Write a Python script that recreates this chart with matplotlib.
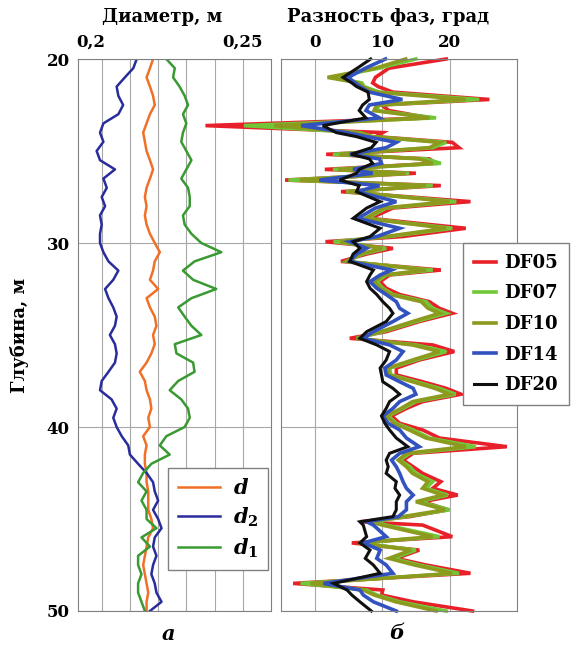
import matplotlib
matplotlib.use('Agg')
import matplotlib.pyplot as plt
import matplotlib.transforms as mtransforms
import numpy as np

plt.rcParams['font.family'] = 'DejaVu Serif'
plt.rcParams['font.weight'] = 'bold'
plt.rcParams['mathtext.fontset'] = 'custom'
plt.rcParams['mathtext.it'] = 'DejaVu Serif:italic:bold'
plt.rcParams['mathtext.rm'] = 'DejaVu Serif:bold'

# --- panel a: diameters, m (sampled every 0.5 m, 20..50 m)
depth_a = np.arange(20.0, 50.01, 0.5)
d = [0.2182, 0.2171, 0.2159, 0.2171, 0.2182, 0.2188, 0.2171, 0.2159, 0.2147, 0.2153,
     0.2159, 0.2171, 0.2182, 0.2171, 0.2159, 0.2153, 0.2159, 0.2153, 0.2159, 0.2171,
     0.2188, 0.2206, 0.2188, 0.2182, 0.2171, 0.2200, 0.2159, 0.2171, 0.2188, 0.2194,
     0.2182, 0.2188, 0.2176, 0.2159, 0.2135, 0.2153, 0.2159, 0.2171, 0.2176, 0.2165,
     0.2171, 0.2147, 0.2159, 0.2153, 0.2153, 0.2159, 0.2159, 0.2165, 0.2165, 0.2165,
     0.2176, 0.2182, 0.2165, 0.2159, 0.2153, 0.2147, 0.2153, 0.2159, 0.2165, 0.2159,
     0.2159]
d2 = [0.2124, 0.2112, 0.2082, 0.2053, 0.2059, 0.2076, 0.2059, 0.2006, 0.1994, 0.2006,
      0.1982, 0.1994, 0.2047, 0.2006, 0.2018, 0.2000, 0.2012, 0.1994, 0.2000, 0.1994,
      0.1994, 0.2006, 0.2024, 0.2059, 0.2041, 0.2012, 0.2024, 0.2041, 0.2053, 0.2047,
      0.2029, 0.2047, 0.2053, 0.2047, 0.2024, 0.2000, 0.1994, 0.2035, 0.2053, 0.2041,
      0.2053, 0.2071, 0.2094, 0.2100, 0.2129, 0.2159, 0.2182, 0.2188, 0.2200, 0.2182,
      0.2200, 0.2212, 0.2188, 0.2182, 0.2194, 0.2182, 0.2176, 0.2188, 0.2194, 0.2212,
      0.2171]
d1 = [0.2229, 0.2259, 0.2253, 0.2276, 0.2294, 0.2306, 0.2288, 0.2300, 0.2288, 0.2282,
      0.2300, 0.2318, 0.2300, 0.2282, 0.2306, 0.2312, 0.2312, 0.2288, 0.2294, 0.2318,
      0.2353, 0.2424, 0.2329, 0.2288, 0.2324, 0.2406, 0.2318, 0.2271, 0.2294, 0.2318,
      0.2353, 0.2259, 0.2265, 0.2324, 0.2329, 0.2271, 0.2241, 0.2282, 0.2306, 0.2312,
      0.2294, 0.2229, 0.2206, 0.2241, 0.2176, 0.2147, 0.2129, 0.2159, 0.2141, 0.2159,
      0.2159, 0.2194, 0.2141, 0.2171, 0.2129, 0.2129, 0.2141, 0.2129, 0.2129, 0.2141,
      0.2153]

# --- panel b: phase difference, deg
depth_b = [20.00, 20.50, 21.00, 21.30, 21.50, 21.80, 22.20, 22.50, 22.80, 23.20,
           23.62, 24.00, 24.22, 24.53, 24.82, 25.18, 25.43, 25.67, 26.00, 26.21,
           26.58, 26.88, 27.21, 27.75, 28.10, 28.66, 29.20, 29.65, 29.93, 30.29,
           30.60, 31.00, 31.47, 31.74, 32.10, 32.46, 32.80, 33.19, 33.55, 33.82,
           34.27, 34.82, 35.18, 35.54, 35.90, 36.36, 36.80, 37.17, 37.54, 37.90,
           38.22, 38.62, 38.99, 39.40, 39.80, 40.16, 40.60, 41.07, 41.43, 41.80,
           42.16, 42.52, 42.97, 43.33, 43.70, 44.06, 44.50, 44.87, 45.15, 45.33,
           45.96, 46.30, 46.69, 47.14, 47.50, 47.95, 48.50, 48.86, 49.13, 49.50,
           50.00]
df20 = [8.3, 6.3, 4.2, 5.5, 6.2, 7.9, 8.1, 7.1, 6.6, 7.6,
        1.2, 3.2, 6.2, 9.1, 8.4, 5.4, 8.1, 8.6, 6.6, 6.2,
        3.7, 6.6, 6.2, 9.7, 7.7, 5.7, 9.7, 8.2, 5.7, 6.7,
        5.7, 5.2, 8.7, 8.2, 7.7, 8.2, 9.2, 10.1, 11.1, 11.6,
        10.6, 7.7, 6.7, 9.2, 11.1, 10.6, 9.7, 9.9, 10.1, 11.6,
        12.6, 11.1, 10.6, 9.9, 10.4, 11.1, 12.1, 13.8, 11.1, 10.6,
        10.9, 10.6, 12.1, 11.9, 12.6, 12.1, 12.1, 11.6, 6.7, 7.2,
        7.7, 6.7, 8.2, 7.5, 8.7, 9.7, 2.8, 4.8, 5.5, 6.7,
        8.4]
df14 = [10.5, 7.5, 5.0, 6.0, 6.7, 8.1, 13.0, 8.1, 7.6, 9.6,
        -2.0, 4.7, 7.7, 12.1, 10.6, 5.2, 9.6, 9.9, 5.7, 8.6,
        0.7, 9.6, 6.2, 12.1, 9.0, 6.4, 12.6, 9.2, 5.2, 7.7,
        6.2, 5.2, 11.4, 9.7, 8.2, 9.2, 10.6, 12.1, 12.6, 13.8,
        11.6, 8.7, 7.2, 11.1, 13.1, 12.1, 10.4, 10.6, 12.6, 14.6,
        15.0, 12.6, 11.6, 10.1, 10.9, 12.6, 13.6, 15.5, 12.6, 11.4,
        12.1, 12.6, 13.1, 13.6, 14.6, 13.6, 13.6, 12.4, 7.7, 8.7,
        10.6, 7.2, 9.7, 9.2, 10.6, 11.6, 1.3, 6.7, 7.2, 8.7,
        12.1]
df10 = [13.5, 9.0, 1.9, 6.5, 7.1, 9.0, 22.4, 9.2, 8.8, 17.0,
        -6.0, 6.2, 8.5, 18.5, 17.0, 3.7, 15.5, 17.5, 3.5, 13.5,
        -2.2, 16.5, 5.0, 20.0, 10.2, 7.5, 19.5, 10.5, 3.8, 10.0,
        6.8, 4.7, 16.5, 10.2, 8.8, 9.8, 11.2, 15.8, 16.8, 18.5,
        14.5, 9.8, 6.2, 14.5, 18.5, 14.5, 10.8, 11.0, 14.5, 17.8,
        20.0, 14.5, 12.8, 10.6, 11.8, 14.0, 16.5, 22.4, 13.6, 12.4,
        13.6, 14.5, 16.8, 16.0, 19.0, 15.0, 19.3, 13.1, 8.2, 10.0,
        17.5, 6.5, 14.3, 11.0, 14.8, 20.4, -0.6, 7.2, 8.8, 12.0,
        18.0]
df07 = [15.0, 9.5, 2.5, 7.0, 7.3, 9.6, 24.4, 9.6, 9.1, 18.0,
        -10.5, 6.7, 8.6, 19.5, 17.5, 2.7, 16.5, 18.7, 2.7, 14.0,
        -3.9, 17.5, 4.7, 21.0, 10.6, 7.7, 20.4, 11.0, 2.8, 10.6,
        7.1, 4.7, 17.5, 10.6, 9.2, 10.1, 11.6, 16.5, 17.5, 19.5,
        15.0, 10.1, 6.2, 15.0, 19.5, 15.0, 11.1, 11.3, 15.0, 18.5,
        20.9, 15.0, 13.1, 10.9, 12.1, 14.6, 17.0, 23.9, 14.1, 12.6,
        14.1, 15.0, 17.5, 16.5, 19.7, 15.5, 20.0, 13.6, 8.7, 10.6,
        18.5, 6.7, 15.0, 11.6, 15.5, 21.4, -2.1, 7.7, 9.2, 12.6,
        19.5]
df05 = [19.5, 11.0, 9.0, 8.6, 9.4, 11.6, 25.9, 9.9, 11.0, 17.0,
        -16.2, 10.1, 9.1, 20.4, 21.4, 1.7, 17.0, 18.0, 1.5, 15.0,
        -4.4, 18.7, 3.9, 23.1, 11.6, 8.2, 22.4, 13.0, 1.6, 11.6,
        7.7, 3.9, 18.7, 11.1, 9.7, 10.6, 12.6, 17.0, 18.5, 20.4,
        15.5, 10.6, 5.2, 17.5, 20.7, 15.5, 12.1, 12.1, 16.0, 19.5,
        21.7, 16.0, 13.6, 11.4, 12.6, 16.0, 18.5, 28.5, 14.6, 13.1,
        14.6, 16.0, 18.7, 17.5, 21.2, 16.0, 19.8, 14.1, 6.7, 16.0,
        20.4, 5.5, 15.5, 12.1, 16.5, 23.1, -3.2, 10.1, 9.9, 14.6,
        23.4]

W, H = 577, 647
fig = plt.figure(figsize=(W / 100, H / 100), dpi=100)

def px_axes(x0, y0, x1, y1):
    return fig.add_axes([x0 / W, 1 - y1 / H, (x1 - x0) / W, (y1 - y0) / H])

grid_kw = dict(color='#a8a8a8', lw=0.8)

# panel a
ax1 = px_axes(78, 59, 271, 611)
ax1.plot(d, depth_a, color='#f07028', lw=1.8, label='$d$')
ax1.plot(d2, depth_a, color='#2a2c9c', lw=1.8, label='$d_2$')
ax1.plot(d1, depth_a, color='#3a9a32', lw=1.8, label='$d_1$')
ax1.set_xlim(0.1916, 0.26)
ax1.set_ylim(50, 20)
ax1.set_xticks([0.20, 0.21, 0.22, 0.23, 0.24, 0.25])
ax1.set_xticklabels(['0,2', '', '', '', '', '0,25'])
ax1.set_yticks([20, 30, 40, 50])
ax1.xaxis.tick_top()
ax1.tick_params(length=0, labelsize=12, pad=6)
ax1.grid(True, **grid_kw)
lab0 = ax1.get_xticklabels()[0]
lab0.set_transform(lab0.get_transform() +
                   mtransforms.ScaledTranslation(-0.11, 0, fig.dpi_scale_trans))
ax1.legend(loc='upper left', bbox_to_anchor=(168 / W, 1 - 468 / H),
           bbox_transform=fig.transFigure, borderaxespad=0, fancybox=False,
           edgecolor='#808080', framealpha=1, fontsize=15, handlelength=2.0,
           labelspacing=0.35, handletextpad=0.6, borderpad=0.5)

# panel b
ax2 = px_axes(281, 59, 517, 611)
for vals, col, lab in [(df05, '#e8202a', 'DF05'), (df07, '#70c838', 'DF07'),
                       (df10, '#8c9a1e', 'DF10'), (df14, '#3252c0', 'DF14'),
                       (df20, '#101010', 'DF20')]:
    ax2.plot(vals, depth_b, color=col, lw=2.6 if lab != 'DF20' else 2.2,
             label=lab, clip_on=False, solid_joinstyle='miter')
ax2.set_xlim(-5, 30)
ax2.set_ylim(50, 20)
ax2.set_xticks([0, 10, 20])
ax2.set_yticks([20, 30, 40, 50])
ax2.set_yticklabels([])
ax2.xaxis.tick_top()
ax2.tick_params(length=0, labelsize=12, pad=6)
ax2.grid(True, **grid_kw)
ax2.legend(loc='upper left', bbox_to_anchor=(463 / W, 1 - 243 / H),
           bbox_transform=fig.transFigure, borderaxespad=0, fancybox=False,
           edgecolor='#808080', framealpha=1, fontsize=13, handlelength=1.2,
           labelspacing=0.7, handletextpad=0.5, borderpad=0.6)

for ax in (ax1, ax2):
    for s in ax.spines.values():
        s.set_color('#808080')

fig.text(162 / W, 1 - 17 / H, 'Диаметр, м', ha='center', va='center', fontsize=13)
fig.text(388 / W, 1 - 17 / H, 'Разность фаз, град', ha='center', va='center', fontsize=13)
fig.text(20 / W, 1 - 335 / H, 'Глубина, м', ha='center', va='center',
         rotation=90, fontsize=13)
fig.text(168 / W, 1 - 634 / H, 'а', ha='center', va='center', fontsize=15, style='italic')
fig.text(397 / W, 1 - 633 / H, 'б', ha='center', va='center', fontsize=15, style='italic')

fig.savefig('out.png', dpi=100)
